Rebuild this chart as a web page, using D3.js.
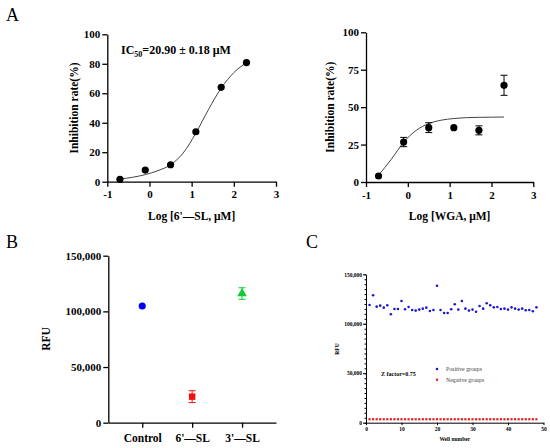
<!DOCTYPE html>
<html>
<head>
<meta charset="utf-8">
<script src="https://cdn.jsdelivr.net/npm/d3@7"></script>
<style>
  body { margin: 0; background: #fff; }
  svg text { font-family: "Liberation Serif", "Times New Roman", serif !important; }
</style>
</head>
<body>
<div id="chart-area"></div>
<script>
// ---- data ----
// panel A (left): 6'-SL
var sixLogConc = [-0.7, -0.1, 0.5, 1.1, 1.7, 2.3];
var sixInhib = [1.6, 7.9, 11.5, 33.9, 64.0, 80.8];
var sixFitX = [-0.7, -0.4, -0.1, 0.2, 0.5, 0.8, 1.1, 1.4, 1.7, 2.0, 2.3];
var sixFitY = [1.8, 3.0, 4.8, 7.5, 11.5, 19.5, 33, 49, 63.5, 74, 80.8];

// panel A (right): WGA
var wgaLogConc = [-0.7, -0.1, 0.5, 1.1, 1.7, 2.3];
var wgaInhib = [4.0, 26.7, 36.3, 36.3, 34.5, 64.6];
var wgaErr = [0.5, 3.1, 3.3, 0.6, 3.0, 6.7];
var wgaFitX = [-0.7, -0.4, -0.1, 0.2, 0.5, 0.8, 1.1, 1.4, 1.7, 2.0, 2.3];
var wgaFitY = [4.5, 15, 26.5, 34.5, 39, 41.3, 42.4, 43, 43.2, 43.3, 43.4];

var inhibTicksLeft = [0, 20, 40, 60, 80, 100];
var inhibTicksRight = [0, 25, 50, 75, 100];
var logTicks = [-1, 0, 1, 2, 3];

// panel B
var groups = ["Control", "6'\u2014SL", "3'\u2014SL"];
var groupRFU = [104800, 23400, 116000];
var groupErr = [1000, 5300, 5200];
var groupColors = ["#0000ee", "#ee1111", "#11cc33"];
var rfuTicks = [0, 50000, 100000, 150000];

// panel C
var positiveRFU = [119000, 128800, 117300, 118300, 116300, 118650, 109550, 114900,
  114900, 123000, 114600, 117000, 113900, 113300, 114300, 115300, 116300, 112900,
  113900, 138500, 113900, 110900, 110900, 114600, 119700, 114300, 123000, 115300,
  113300, 114300, 112200, 118000, 115300, 120700, 118650, 116600, 117000, 114900,
  115300, 114300, 116600, 115300, 114300, 115300, 113600, 113900, 112600, 116600];
var negativeRFU = [3500, 3500, 3500, 3500, 3500, 3500, 3500, 3500, 3500, 3500,
  3500, 3500, 3500, 3500, 3500, 3500, 3500, 3500, 3500, 3500, 3500, 3500, 3500, 3500,
  3500, 3500, 3500, 3500, 3500, 3500, 3500, 3500, 3500, 3500, 3500, 3500, 3500, 3500,
  3500, 3500, 3500, 3500, 3500, 3500, 3500, 3500, 3500, 3500];
var wellTicks = [0, 10, 20, 30, 40, 50];

var svg = d3.select("#chart-area").append("svg")
  .attr("width", 550)
  .attr("height", 448);

// panel letters
[["A", 6, 21], ["B", 6, 248], ["C", 306, 248]].forEach(function (l) {
  svg.append("text").attr("x", l[1]).attr("y", l[2])
    .attr("font-size", "18px").text(l[0]);
});

function styleAxis(g, fontSize, width) {
  g.attr("font-family", null);
  g.selectAll("path.domain").attr("stroke", "#000").attr("stroke-width", width);
  g.selectAll(".tick line").attr("stroke", "#000").attr("stroke-width", width);
  g.selectAll(".tick text")
    .style("font-family", "'Liberation Serif', serif")
    .style("font-weight", "bold")
    .style("font-size", fontSize)
    .attr("fill", "#000");
}

// plain hyphen minus, like the figure
var plainFmt = function (d) { return String(d); };

// ---- panel A: dose-response ----
function doseResponse(opt) {
  var x = d3.scaleLinear().domain([-1, 3]).range([opt.left, opt.right]);
  var y = d3.scaleLinear().domain([0, 100]).range([opt.bottom, opt.top]);
  var g = svg.append("g");

  var xa = g.append("g").attr("transform", "translate(0," + opt.bottom + ")")
    .call(d3.axisBottom(x).tickValues(logTicks).tickFormat(plainFmt)
      .tickSize(5).tickSizeOuter(0).tickPadding(4));
  styleAxis(xa, "11px", 1.3);
  var ya = g.append("g").attr("transform", "translate(" + opt.left + ",0)")
    .call(d3.axisLeft(y).tickValues(opt.yTicks).tickFormat(plainFmt)
      .tickSize(5).tickSizeOuter(0).tickPadding(2));
  styleAxis(ya, "11px", 1.3);

  var line = d3.line()
    .x(function (d, i) { return x(opt.fitX[i]); })
    .y(function (d) { return y(d); })
    .curve(d3.curveMonotoneX);
  g.append("path").datum(opt.fitY)
    .attr("d", line)
    .attr("fill", "none")
    .attr("stroke", "#444")
    .attr("stroke-width", 1);

  opt.vals.forEach(function (v, i) {
    var e = opt.err ? opt.err[i] : 0;
    var cx = x(opt.xs[i]);
    if (e > 1) {
      g.append("line").attr("x1", cx).attr("x2", cx)
        .attr("y1", y(v - e)).attr("y2", y(v + e))
        .attr("stroke", "#000").attr("stroke-width", 1);
      [v - e, v + e].forEach(function (w) {
        g.append("line").attr("x1", cx - 3.5).attr("x2", cx + 3.5)
          .attr("y1", y(w)).attr("y2", y(w))
          .attr("stroke", "#000").attr("stroke-width", 1);
      });
    }
    g.append("circle").attr("cx", cx).attr("cy", y(v)).attr("r", 3.6).attr("fill", "#000");
  });

  g.append("text")
    .attr("transform", "translate(" + opt.yTitleX + "," + ((opt.top + opt.bottom) / 2) + ") rotate(-90)")
    .attr("text-anchor", "middle")
    .attr("font-weight", "bold")
    .attr("font-size", "11.5px")
    .text("Inhibition rate(%)");

  g.append("text")
    .attr("x", x(1)).attr("y", opt.bottom + 38)
    .attr("text-anchor", "middle")
    .attr("font-weight", "bold")
    .attr("font-size", "11.5px")
    .text(opt.xTitle);
  return g;
}

var aLeft = doseResponse({
  left: 107.3, right: 276, top: 34.3, bottom: 181.7,
  yTicks: inhibTicksLeft, xs: sixLogConc, vals: sixInhib,
  fitX: sixFitX, fitY: sixFitY, yTitleX: 78,
  xTitle: "Log [6'\u2014SL, \u03bcM]"
});

var ic50 = aLeft.append("text")
  .attr("x", 121).attr("y", 54)
  .attr("font-weight", "bold")
  .attr("font-size", "12px");
ic50.append("tspan").text("IC");
ic50.append("tspan").attr("font-size", "8px").attr("dy", 3).text("50");
ic50.append("tspan").attr("dy", -3).text("=20.90 \u00b1 0.18 \u03bcM");

doseResponse({
  left: 366, right: 533.3, top: 32.3, bottom: 182,
  yTicks: inhibTicksRight, xs: wgaLogConc, vals: wgaInhib, err: wgaErr,
  fitX: wgaFitX, fitY: wgaFitY, yTitleX: 334,
  xTitle: "Log [WGA, \u03bcM]"
});

// ---- panel B ----
var bx = d3.scalePoint().domain(groups).range([108.3, 276]).padding(0.68);
var by = d3.scaleLinear().domain([0, 150000]).range([422.7, 255.7]);
var gB = svg.append("g");
var bxa = gB.append("g").attr("transform", "translate(0,422.7)")
  .call(d3.axisBottom(bx).tickSize(5).tickSizeOuter(0).tickPadding(6));
styleAxis(bxa, "11.5px", 1.3);
var bya = gB.append("g").attr("transform", "translate(108.3,0)")
  .call(d3.axisLeft(by).tickValues(rfuTicks).tickFormat(d3.format(",")).tickSize(5).tickSizeOuter(0).tickPadding(2));
styleAxis(bya, "11px", 1.3);

gB.append("text")
  .attr("transform", "translate(50,339) rotate(-90)")
  .attr("text-anchor", "middle")
  .attr("font-weight", "bold")
  .attr("font-size", "11.5px")
  .text("RFU");

var shapes = [d3.symbolCircle, d3.symbolSquare, d3.symbolTriangle];
var sizes = [40, 42, 40];
groups.forEach(function (name, i) {
  var cx = bx(name), v = groupRFU[i], e = groupErr[i];
  if (e > 1500) {
    gB.append("line").attr("x1", cx).attr("x2", cx)
      .attr("y1", by(v - e)).attr("y2", by(v + e))
      .attr("stroke", groupColors[i]).attr("stroke-width", 1);
    [v - e, v + e].forEach(function (w) {
      gB.append("line").attr("x1", cx - 3.5).attr("x2", cx + 3.5)
        .attr("y1", by(w)).attr("y2", by(w))
        .attr("stroke", groupColors[i]).attr("stroke-width", 1);
    });
  }
  gB.append("path")
    .attr("d", d3.symbol().type(shapes[i]).size(sizes[i])())
    .attr("transform", "translate(" + cx + "," + by(v) + ")")
    .attr("fill", groupColors[i]);
});

// ---- panel C ----
var cx = d3.scaleLinear().domain([0, 50]).range([366, 543.5]);
var cy = d3.scaleLinear().domain([0, 150000]).range([422.7, 274.3]);
var gC = svg.append("g");
var cxa = gC.append("g").attr("transform", "translate(0,422.7)")
  .call(d3.axisBottom(cx).tickValues(wellTicks).tickFormat(plainFmt)
    .tickSize(2.5).tickSizeOuter(0).tickPadding(2));
styleAxis(cxa, "5.5px", 1);
var cyMinor = gC.append("g").attr("transform", "translate(366,0)")
  .call(d3.axisLeft(cy).tickValues(d3.range(0, 150001, 5000)).tickFormat("").tickSize(1.5).tickSizeOuter(0));
styleAxis(cyMinor, "5.5px", 1);
var cya = gC.append("g").attr("transform", "translate(366,0)")
  .call(d3.axisLeft(cy).tickValues(rfuTicks).tickFormat(d3.format(",")).tickSize(3).tickSizeOuter(0).tickPadding(1));
styleAxis(cya, "5.5px", 1);

gC.append("text")
  .attr("transform", "translate(339,349) rotate(-90)")
  .attr("text-anchor", "middle")
  .attr("font-weight", "bold")
  .attr("font-size", "5.5px")
  .text("RFU");
gC.append("text")
  .attr("x", cx(25)).attr("y", 441)
  .attr("text-anchor", "middle")
  .attr("font-weight", "bold")
  .attr("font-size", "5.5px")
  .text("Well number");

gC.selectAll("rect.neg").data(negativeRFU).enter().append("rect")
  .attr("class", "neg")
  .attr("x", function (d, i) { return cx(i + 1) - 1.1; })
  .attr("y", function (d) { return cy(d) - 1.1; })
  .attr("width", 2.2).attr("height", 2.2)
  .attr("fill", "#dd2222");

gC.selectAll("circle.pos").data(positiveRFU).enter().append("circle")
  .attr("class", "pos")
  .attr("cx", function (d, i) { return cx(i + 1); })
  .attr("cy", function (d) { return cy(d); })
  .attr("r", 1.3)
  .attr("fill", "#1a1acc");

gC.append("text")
  .attr("x", 381).attr("y", 376)
  .attr("font-weight", "bold")
  .attr("font-size", "6px")
  .text("Z factor=0.75");

gC.append("circle").attr("cx", 437).attr("cy", 369).attr("r", 1.3).attr("fill", "#1a1acc");
gC.append("rect").attr("x", 435.9).attr("y", 378.6).attr("width", 2.2).attr("height", 2.2).attr("fill", "#dd2222");
gC.append("text").attr("x", 446).attr("y", 371).attr("font-size", "5.8px").attr("fill", "#444").text("Positive groups");
gC.append("text").attr("x", 446).attr("y", 381.5).attr("font-size", "5.8px").attr("fill", "#444").text("Negative groups");
</script>
</body>
</html>
